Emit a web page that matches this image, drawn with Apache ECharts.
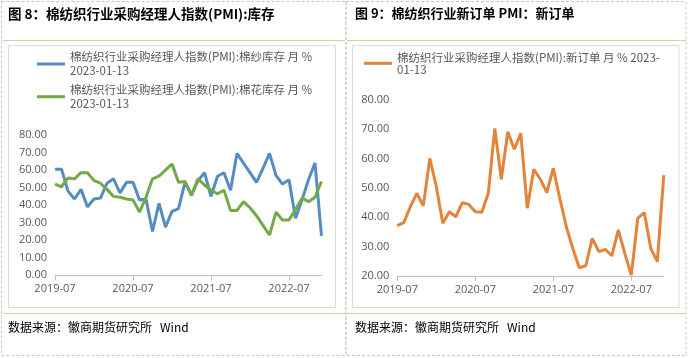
<!DOCTYPE html>
<html>
<head>
<meta charset="utf-8">
<script src="https://cdn.jsdelivr.net/npm/echarts@6/dist/echarts.min.js"></script>
<style>
html,body{margin:0;padding:0;background:#fff;}
#c{width:688px;height:358px;}
</style>
</head>
<body>
<div id="c"></div>
<script>
const months = ['2019-07','2019-08','2019-09','2019-10','2019-11','2019-12',
'2020-01','2020-02','2020-03','2020-04','2020-05','2020-06',
'2020-07','2020-08','2020-09','2020-10','2020-11','2020-12',
'2021-01','2021-02','2021-03','2021-04','2021-05','2021-06',
'2021-07','2021-08','2021-09','2021-10','2021-11','2021-12',
'2022-01','2022-02','2022-03','2022-04','2022-05','2022-06',
'2022-07','2022-08','2022-09','2022-10','2022-11','2022-12'];

const yarnInventory = [60.5,60.5,48,43.5,49,39,43.5,44,52.5,55,47,53,53,43,43.5,25,41,27.5,36.5,38,53,46,54,58.5,45,56.5,58.5,48.5,69.5,64,58.5,53,61,69.5,57,52,54.5,32.5,43,54.5,64,22.5];
const cottonInventory = [52,50.5,55.5,55,58.5,58.5,54,52.5,49,45,44.5,43.5,43,36,44.5,55,56.5,60,63.5,53,53.5,45.5,55,51.5,48.5,46.5,48.5,37,37,42,38.5,34,28.5,23,36,31.5,31.5,37.5,44,42,44.5,53.5];
const newOrders = [37.2,38.2,43.6,48.2,43.9,60.1,50.5,38,41.9,40.2,45,44.4,41.9,41.7,48.2,70.3,53,69.2,63.2,68.6,43.1,56.4,53,48.4,56.7,46.5,36.8,29.4,22.8,23.5,32.8,28.3,29.1,26.9,35.7,27.7,20.3,39.7,41.6,29.4,24.9,54.4];

const nameYarn = '棉纺织行业采购经理人指数(PMI):棉纱库存 月 %';
const nameCotton = '棉纺织行业采购经理人指数(PMI):棉花库存 月 %';
const nameOrders = '棉纺织行业采购经理人指数(PMI):新订单 月 %';
const legendDate = '2023-01-13';

const title8 = '图 8：棉纺织行业采购经理人指数(PMI):库存';
const title9 = '图 9：棉纺织行业新订单 PMI：新订单';
const source = '数据来源：徽商期货研究所   Wind';

const cjk = '"Noto Sans CJK SC", "Noto Sans", sans-serif';
const axisFont = '"Open Sans", "Noto Sans", sans-serif';
const grey = '#595959';

function xAxisCfg(gi){
  return {
    type:'category', gridIndex:gi, data:months, boundaryGap:false,
    axisLine:{lineStyle:{color:'#bfbfbf',width:1}},
    axisTick:{show:true, interval:11, length:5, lineStyle:{color:'#bfbfbf'}},
    axisLabel:{interval:11, color:grey, fontSize:11, fontFamily:axisFont, margin:8},
    splitLine:{show:false}
  };
}
function yAxisCfg(gi, min){
  return {
    type:'value', gridIndex:gi, min:min, max:80, interval:10,
    axisLine:{show:false}, axisTick:{show:false}, splitLine:{show:false},
    axisLabel:{color:grey, fontSize:11, fontFamily:axisFont, margin:8,
      formatter:function(v){return v.toFixed(2);}}
  };
}
function legendCfg(name, left, top, lh, extra){
  return {
    data:[name], left:left, top:top, orient:'vertical', padding:0,
    icon:'path://M0,0L28,0L28,3L0,3Z', symbolKeepAspect:true,
    itemWidth:28, itemHeight:14, itemGap:0, selectedMode:false,
    formatter:function(n){ return n + (extra ? extra : '\n' + legendDate); },
    textStyle:{color:grey, fontSize:11.5, fontFamily:cjk, lineHeight:lh, padding:[lh,0,0,0]}
  };
}

const chart = echarts.init(document.getElementById('c'), null, {renderer:'canvas'});
chart.setOption({
  animation:false,
  backgroundColor:'#fff',
  title:[
    {text:title8, left:8, top:7, padding:0, textStyle:{fontSize:13.5, fontWeight:'bold', color:'#000', fontFamily:cjk}},
    {text:title9, left:355, top:7, padding:0, textStyle:{fontSize:13, fontWeight:'bold', color:'#000', fontFamily:cjk}},
    {text:source, left:8, top:321, padding:0, textStyle:{fontSize:12, fontWeight:'normal', color:'#000', fontFamily:cjk}},
    {text:source, left:355, top:321, padding:0, textStyle:{fontSize:12, fontWeight:'normal', color:'#000', fontFamily:cjk}}
  ],
  graphic:[
    {type:'rect', silent:true, z:-10, shape:{x:1.5,y:1.5,width:344.5,height:354}, style:{fill:null, stroke:'#c8c8c8', lineWidth:1, lineDash:[3,2]}},
    {type:'rect', silent:true, z:-10, shape:{x:346,y:1.5,width:340,height:354}, style:{fill:null, stroke:'#c8c8c8', lineWidth:1, lineDash:[3,2]}},
    {type:'line', silent:true, z:-9, shape:{x1:3,y1:40.5,x2:345,y2:40.5}, style:{stroke:'#d8cda6', lineWidth:1}},
    {type:'line', silent:true, z:-9, shape:{x1:347,y1:40.5,x2:686,y2:40.5}, style:{stroke:'#d8cda6', lineWidth:1}},
    {type:'line', silent:true, z:-9, shape:{x1:3,y1:313.5,x2:345,y2:313.5}, style:{stroke:'#d8cda6', lineWidth:1}},
    {type:'line', silent:true, z:-9, shape:{x1:347,y1:313.5,x2:686,y2:313.5}, style:{stroke:'#d8cda6', lineWidth:1}},
    {type:'rect', silent:true, z:-9, shape:{x:8.5,y:45.5,width:327,height:262}, style:{fill:null, stroke:'#d9d9d9', lineWidth:1}},
    {type:'rect', silent:true, z:-9, shape:{x:352.5,y:45.5,width:326.5,height:262}, style:{fill:null, stroke:'#d9d9d9', lineWidth:1}}
  ],
  legend:[
    legendCfg(nameYarn, 37, 43, 14),
    legendCfg(nameCotton, 37, 75.7, 14),
    legendCfg(nameOrders, 364, 45.3, 12, ' 2023-\n01-13')
  ],
  grid:[
    {left:55, top:135, width:266.5, height:140.3},
    {left:397.3, top:100, width:266.5, height:176}
  ],
  xAxis:[xAxisCfg(0), xAxisCfg(1)],
  yAxis:[yAxisCfg(0,0), yAxisCfg(1,20)],
  series:[
    {name:nameYarn, type:'line', xAxisIndex:0, yAxisIndex:0, data:yarnInventory, symbol:'none',
      lineStyle:{color:'#538dc2', width:3}, itemStyle:{color:'#538dc2'}},
    {name:nameCotton, type:'line', xAxisIndex:0, yAxisIndex:0, data:cottonInventory, symbol:'none',
      lineStyle:{color:'#72aa48', width:3}, itemStyle:{color:'#72aa48'}},
    {name:nameOrders, type:'line', xAxisIndex:1, yAxisIndex:1, data:newOrders, symbol:'none',
      lineStyle:{color:'#e3843b', width:3}, itemStyle:{color:'#e3843b'}}
  ]
});
</script>
</body>
</html>
